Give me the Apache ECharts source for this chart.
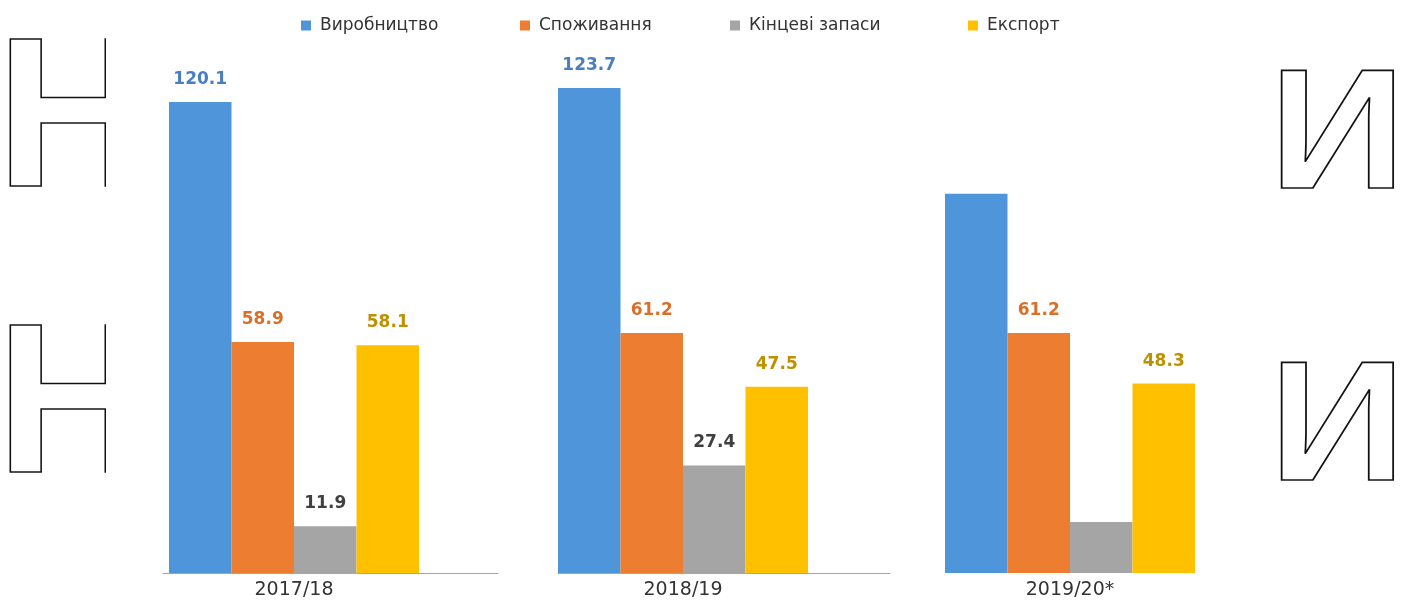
<!DOCTYPE html>
<html>
<head>
<meta charset="utf-8">
<script src="https://cdn.jsdelivr.net/npm/echarts@6/dist/echarts.min.js"></script>
<style>
html,body{margin:0;padding:0;background:#fff;}
#chart{width:1406px;height:602px;}
</style>
</head>
<body>
<div id="chart"></div>
<script>
const categories = ['2017/18', '2018/19', '2019/20*'];
const seriesNames = ['Виробництво', 'Споживання', 'Кінцеві запаси', 'Експорт'];
const production = [120.1, 123.7, 96.7];
const consumption = [58.9, 61.2, 61.2];
const endStocks = [11.9, 27.4, 13.0];
const exportVals = [58.1, 47.5, 48.3];
// which values carry a data label in the picture
const productionLabelled = [true, true, false];
const consumptionLabelled = [true, true, true];
const endStocksLabelled = [true, true, false];
const exportLabelled = [true, true, true];

const values = [production, consumption, endStocks, exportVals];
const labelled = [productionLabelled, consumptionLabelled, endStocksLabelled, exportLabelled];
const barColors = ['#4E95D9', '#ED7D31', '#A5A5A5', '#FFC000'];
const labelColors = ['#4A7EC2', '#D9702A', '#404040', '#BF9000'];

const barGridLeft = [169, 558, 945];
const lineGridLeft = [163, 558];
const lineGridWidth = [335, 332];
const gridTop = 24, gridHeight = 549;

const grids = [], xAxes = [], yAxes = [], series = [];
barGridLeft.forEach((l, g) => {
  grids.push({left: l, width: 250, top: gridTop, height: gridHeight});
  xAxes.push({type: 'category', gridIndex: g, data: [categories[g]],
    axisLine: {show: false}, axisTick: {show: false},
    axisLabel: {color: '#333', fontFamily: 'DejaVu Sans', fontSize: 19, margin: 8}});
  yAxes.push({type: 'value', gridIndex: g, min: 0, max: 140, show: false, splitLine: {show: false}});
  seriesNames.forEach((name, s) => {
    series.push({
      type: 'bar', name: name, xAxisIndex: g, yAxisIndex: g,
      barGap: '0%', barCategoryGap: '0%',
      itemStyle: {color: barColors[s]},
      label: {show: true, position: 'top', distance: 14, color: labelColors[s],
        fontFamily: 'DejaVu Sans', fontWeight: 'bold', fontSize: 17,
        formatter: p => p.value.toFixed(1)},
      data: [{value: values[s][g], label: {show: labelled[s][g]}}]
    });
  });
});
lineGridLeft.forEach((l, i) => {
  const gi = grids.length;
  grids.push({left: l, width: lineGridWidth[i], top: gridTop, height: gridHeight});
  xAxes.push({type: 'category', gridIndex: gi, data: [''],
    axisLine: {show: true, lineStyle: {color: '#A6A6A6', width: 1}},
    axisTick: {show: false}, axisLabel: {show: false}});
  yAxes.push({type: 'value', gridIndex: gi, min: 0, max: 140, show: false, splitLine: {show: false}});
});

const legendLeft = [296, 515, 725, 963];
const legends = seriesNames.map((n, i) => ({
  data: [n], left: legendLeft[i], top: 12, icon: 'rect', itemWidth: 10, itemHeight: 10,
  textStyle: {color: '#333', fontFamily: 'DejaVu Sans', fontSize: 17, padding: [0, 0, 0, 4]}
}));

const outline = {fill: 'none', stroke: '#111', lineWidth: 1.6, align: 'left', verticalAlign: 'top'};
const graphic = [
  {type: 'text', x: -4, y: 20, z: 1, style: Object.assign({text: 'Н', font: 'bold 214px "Liberation Sans"'}, outline)},
  {type: 'text', x: -4, y: 306, z: 1, style: Object.assign({text: 'Н', font: 'bold 214px "Liberation Sans"'}, outline)},
  {type: 'rect', x: 106, y: 0, z: 2, shape: {width: 52, height: 602}, style: {fill: '#fff'}},
  {type: 'text', x: 1269, y: 56, scaleX: 1.12, z: 1, style: Object.assign({text: 'И', font: 'bold 170px "Liberation Sans"'}, outline)},
  {type: 'text', x: 1269, y: 348, scaleX: 1.12, z: 1, style: Object.assign({text: 'И', font: 'bold 170px "Liberation Sans"'}, outline)}
];

const chart = echarts.init(document.getElementById('chart'), null, {renderer: 'canvas'});
chart.setOption({
  animation: false,
  backgroundColor: '#fff',
  legend: legends,
  grid: grids, xAxis: xAxes, yAxis: yAxes, series: series,
  graphic: graphic
});
</script>
</body>
</html>
